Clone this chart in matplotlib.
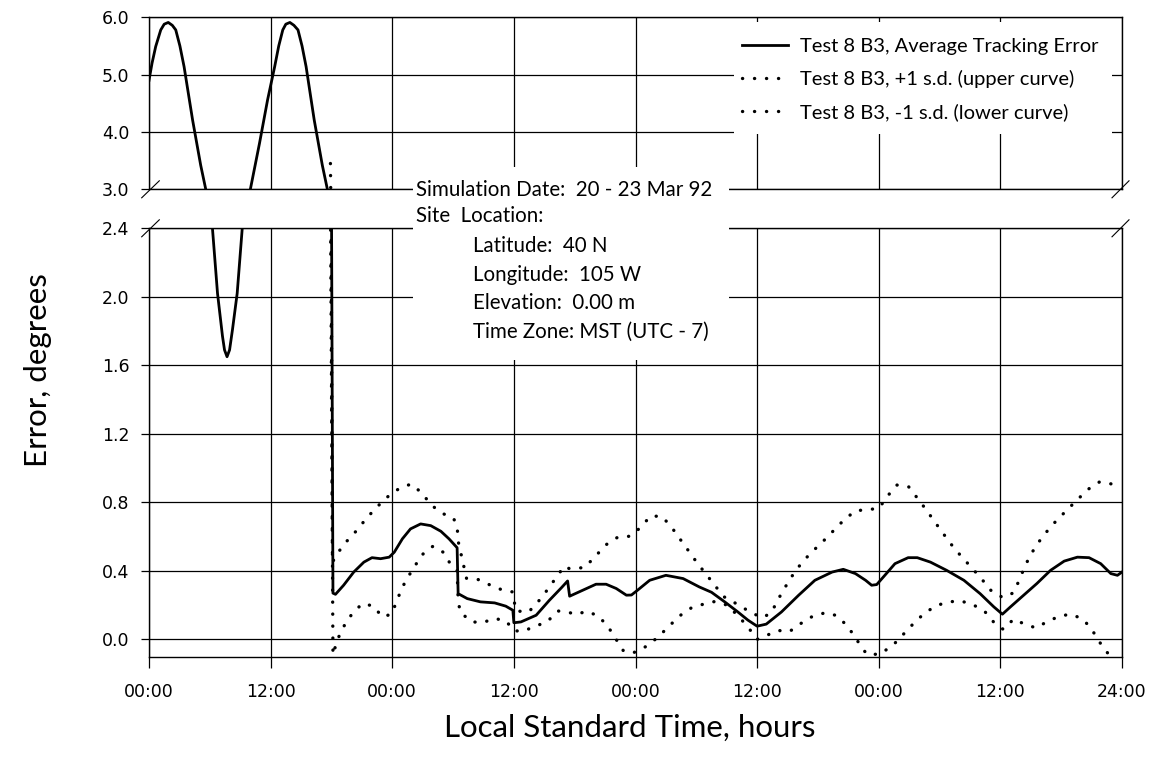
import matplotlib
matplotlib.use("Agg")
import matplotlib.pyplot as plt
from matplotlib.patches import Rectangle
from matplotlib.lines import Line2D

plt.rcParams['font.family'] = ['Lato', 'DejaVu Sans']

# ---------------- data (hours since start, error in degrees) ----------------
hours_avg = [0.0, 0.3, 0.66, 1.16, 1.5, 1.9, 2.3, 2.64, 3.05, 3.46, 4.3, 5.1, 5.6, 6.26, 6.76,
             7.25, 7.45, 7.7, 7.95, 8.24, 8.7, 9.2, 10.0, 10.9, 11.7, 12.4, 12.8, 13.2, 13.5,
             13.9, 14.3, 14.7, 15.1, 15.5, 16.3, 17.1, 17.6,
             18.0, 18.15, 18.4, 19.2, 20.2, 21.2, 22.0, 22.85, 23.7, 24.2, 25.0, 25.8, 26.8,
             27.8, 28.8, 29.6, 30.4, 30.5, 31.4, 32.7, 34.1, 35.2, 35.9, 36.0, 36.7, 38.2,
             39.5, 40.7, 41.3, 41.5, 42.8, 44.1, 45.1, 46.1, 47.1, 47.6, 48.2, 49.4, 51.0,
             52.7, 54.3, 55.5, 56.8, 58.1, 59.1, 60.0, 60.9, 62.4, 64.1, 65.7, 67.4, 68.5,
             69.7, 70.7, 71.3, 71.8, 72.6, 73.6, 74.9, 75.8, 77.1, 78.7, 80.4, 82.0, 83.35,
             84.2, 85.0, 86.3, 87.6, 88.95, 90.3, 91.6, 92.75, 93.9, 94.9, 95.55, 96.0]
err_avg = [4.9, 5.2, 5.49, 5.78, 5.88, 5.91, 5.86, 5.78, 5.5, 5.14, 4.21, 3.42, 3.0, 2.4, 2.02,
           1.77, 1.69, 1.65, 1.69, 1.81, 2.02, 2.4, 3.0, 3.80, 4.56, 5.14, 5.5, 5.78, 5.88,
           5.91, 5.86, 5.78, 5.5, 5.14, 4.21, 3.42, 3.0,
           2.6, 0.27, 0.263, 0.316, 0.393, 0.451, 0.477, 0.471, 0.48, 0.509, 0.587, 0.645, 0.674,
           0.664, 0.631, 0.587, 0.535, 0.267, 0.238, 0.219, 0.213, 0.194, 0.170, 0.097, 0.102, 0.141,
           0.228, 0.302, 0.341, 0.252, 0.287, 0.322, 0.322, 0.297, 0.258, 0.259, 0.287, 0.345, 0.374,
           0.355, 0.306, 0.275, 0.219, 0.16, 0.112, 0.077, 0.089, 0.16, 0.258, 0.345, 0.393, 0.409,
           0.384, 0.345, 0.316, 0.32, 0.374, 0.442, 0.477, 0.477, 0.451, 0.403, 0.345, 0.267, 0.19,
           0.147, 0.19, 0.258, 0.326, 0.403, 0.457, 0.48, 0.477, 0.442, 0.384, 0.374, 0.393]

hours_up = [17.9, 18.1, 18.56, 19.42, 20.48, 21.43, 22.45, 23.6, 24.76, 25.88, 26.97, 27.79,
            28.92, 30.04, 30.43, 30.45, 31.33, 32.48, 33.63, 34.79, 35.87, 36.2, 37.46, 38.45,
            39.34, 40.16, 40.98, 41.47, 42.96, 44.02, 45.03, 46.26, 47.41, 48.47, 49.49, 50.64,
            51.63, 52.45, 53.28, 54.1, 55.0, 55.89, 56.75, 58.2, 59.38, 60.53, 61.42, 61.99,
            62.64, 63.33, 64.16, 65.21, 66.37, 67.46, 68.58, 69.73, 70.89, 72.04, 72.87, 73.79,
            74.95, 75.87, 76.69, 77.48, 78.31, 79.16, 80.15, 81.21, 82.2, 83.11, 84.24, 85.26,
            85.83, 86.3, 86.81, 87.47, 88.3, 89.29, 90.38, 91.5, 92.65, 93.8, 95.0, 96.0]
err_up = [3.45, 0.45, 0.50, 0.567, 0.635, 0.705, 0.771, 0.835, 0.884, 0.907, 0.852, 0.787,
          0.736, 0.709, 0.651, 0.587, 0.356, 0.349, 0.318, 0.29, 0.277, 0.166, 0.160, 0.224,
          0.292, 0.36, 0.428, 0.413, 0.419, 0.483, 0.55, 0.597, 0.602, 0.651, 0.721, 0.717,
          0.649, 0.581, 0.513, 0.445, 0.378, 0.31, 0.248, 0.2, 0.157, 0.126, 0.157, 0.225,
          0.292, 0.36, 0.428, 0.5, 0.564, 0.63, 0.698, 0.752, 0.756, 0.767, 0.837, 0.901,
          0.891, 0.82, 0.756, 0.69, 0.622, 0.554, 0.484, 0.416, 0.349, 0.283, 0.244, 0.271,
          0.341, 0.41, 0.474, 0.542, 0.61, 0.678, 0.744, 0.81, 0.876, 0.92, 0.907, 0.91]

hours_lo = [17.9, 18.15, 18.6, 19.29, 20.01, 21.04, 22.13, 23.02, 23.91, 24.40, 24.86, 25.42,
            26.14, 26.9, 28.02, 29.11, 29.77, 30.4, 30.5, 30.69, 31.82, 32.97, 34.1, 35.24,
            35.97, 36.96, 38.08, 39.24, 40.33, 41.47, 42.07, 43.22, 44.38, 45.37, 46.09, 46.82,
            47.8, 48.99, 50.15, 51.24, 52.35, 53.51, 54.67, 55.82, 57.04, 58.13, 59.12, 60.0,
            62.09, 63.18, 64.32, 65.48, 66.7, 67.79, 68.91, 69.66, 70.4, 70.82, 72.08, 73.39,
            74.45, 75.5, 76.59, 77.81, 78.96, 80.05, 81.3, 82.5, 83.45, 84.3, 85.3, 86.4,
            87.5, 88.7, 89.9, 91.0, 92.2, 93.1, 93.8, 94.6, 95.3]
err_lo = [2.6, -0.09, 0.0, 0.083, 0.147, 0.209, 0.195, 0.131, 0.147, 0.215, 0.287, 0.352,
          0.419, 0.492, 0.544, 0.506, 0.436, 0.40, 0.234, 0.160, 0.102, 0.099, 0.122, 0.108,
          0.05, 0.048, 0.077, 0.1, 0.166, 0.157, 0.145, 0.164, 0.135, 0.067, 0.0, -0.068,
          -0.078, -0.043, 0.009, 0.073, 0.137, 0.184, 0.205, 0.221, 0.2, 0.137, 0.07, 0.0,
          0.052, 0.045, 0.093, 0.135, 0.155, 0.14, 0.079, 0.012, -0.052, -0.087, -0.087, -0.035,
          0.031, 0.097, 0.157, 0.2, 0.219, 0.225, 0.203, 0.16, 0.093, 0.058, 0.118, 0.089,
          0.067, 0.106, 0.137, 0.147, 0.116, 0.05, -0.017, -0.081, -0.13]

x_ticks = [0, 12, 24, 36, 48, 60, 72, 84, 96]
x_tick_labels = ['00:00', '12:00', '00:00', '12:00', '00:00', '12:00', '00:00', '12:00', '24:00']
top_yticks = [3.0, 4.0, 5.0, 6.0]
bot_yticks = [0.0, 0.4, 0.8, 1.2, 1.6, 2.0, 2.4]
legend_labels = ['Test 8 B3, Average Tracking Error',
                 'Test 8 B3, +1 s.d. (upper curve)',
                 'Test 8 B3, -1 s.d. (lower curve)']
info_head = ['Simulation Date:  20 - 23 Mar 92', 'Site  Location:']
info_body = ['Latitude:  40 N', 'Longitude:  105 W', 'Elevation:  0.00 m', 'Time Zone: MST (UTC - 7)']

# ---------------- layout helpers ----------------
W, H = 1160, 759
fig = plt.figure(figsize=(W / 100, H / 100), dpi=100)


def fx(px):
    return px / W


def fy(py):
    return 1 - py / H


L, R = 149, 1122
ax_top = fig.add_axes([fx(L), fy(189.3), fx(R) - fx(L), fy(17.3) - fy(189.3)])
ax_bot = fig.add_axes([fx(L), fy(656.5), fx(R) - fx(L), fy(228.3) - fy(656.5)])

dot_style = dict(color='black', lw=2.4, linestyle=(0, (0.05, 3.55)), dash_capstyle='round')
solid_style = dict(color='black', lw=2.0, solid_joinstyle='round')
tick_font = dict(family='DejaVu Sans', size=12.5)

for ax in (ax_top, ax_bot):
    ax.set_xlim(0, 96)
    ax.set_xticks(x_ticks)
    ax.grid(True, color='black', lw=0.9)
    ax.set_axisbelow(True)
    for s in ax.spines.values():
        s.set_linewidth(1.0)
    ax.plot(hours_avg, err_avg, **solid_style)
    ax.plot(hours_up, err_up, **dot_style)
    ax.plot(hours_lo, err_lo, **dot_style)
    ax.tick_params(axis='y', direction='out', length=5.5, width=0.9, pad=8.5)

ax_top.set_ylim(3.0, 6.0)
ax_top.set_yticks(top_yticks)
ax_top.set_yticklabels([f'{v:.1f}' for v in top_yticks], fontdict=tick_font)
ax_top.tick_params(axis='x', length=0, labelbottom=False)

ax_bot.set_ylim(-0.1, 2.4)
ax_bot.set_yticks(bot_yticks)
ax_bot.set_yticklabels([f'{v:.1f}' for v in bot_yticks], fontdict=tick_font)
ax_bot.set_xticklabels(x_tick_labels, fontdict=tick_font)
ax_bot.tick_params(axis='x', direction='out', length=8, width=0.9, pad=11)

# break marks
for (x0, x1) in ((141.7, 159.3), (1112, 1129)):
    for yc in (189.3, 228.3):
        fig.add_artist(Line2D([fx(x0), fx(x1)], [fy(yc + 8.5), fy(yc - 8.5)],
                              transform=fig.transFigure, color='black', lw=0.8))

# legend area (white background over gridlines)
fig.add_artist(Rectangle((fx(734), fy(134)), fx(1112) - fx(734), fy(22) - fy(134),
                         transform=fig.transFigure, facecolor='white', edgecolor='none', zorder=1))
handles = [Line2D([], [], **solid_style), Line2D([], [], **dot_style), Line2D([], [], **dot_style)]
fig.legend(handles, legend_labels, loc='upper left',
           bbox_to_anchor=(fx(734), fy(30)), bbox_transform=fig.transFigure,
           frameon=False, fontsize=14.5, handlelength=2.28, handletextpad=0.62,
           labelspacing=0.75, borderpad=0.4, borderaxespad=0)

# info box
fig.add_artist(Rectangle((fx(413), fy(360)), fx(729) - fx(413), fy(167) - fy(360),
                         transform=fig.transFigure, facecolor='white', edgecolor='none', zorder=1))
for i, t in enumerate(info_head):
    fig.text(fx(416), fy(190 + 26 * i), t, fontsize=14.8, va='center', ha='left', zorder=3)
for i, t in enumerate(info_body):
    fig.text(fx(473), fy(246 + 28.7 * i), t, fontsize=14.8, va='center', ha='left', zorder=3)

fig.text(fx(630), fy(728), 'Local Standard Time, hours', fontsize=22.5, ha='center', va='center')
fig.text(fx(38), fy(370), 'Error, degrees', fontsize=22.5, ha='center', va='center', rotation=90)

fig.savefig('out.png', dpi=100, facecolor='white')
